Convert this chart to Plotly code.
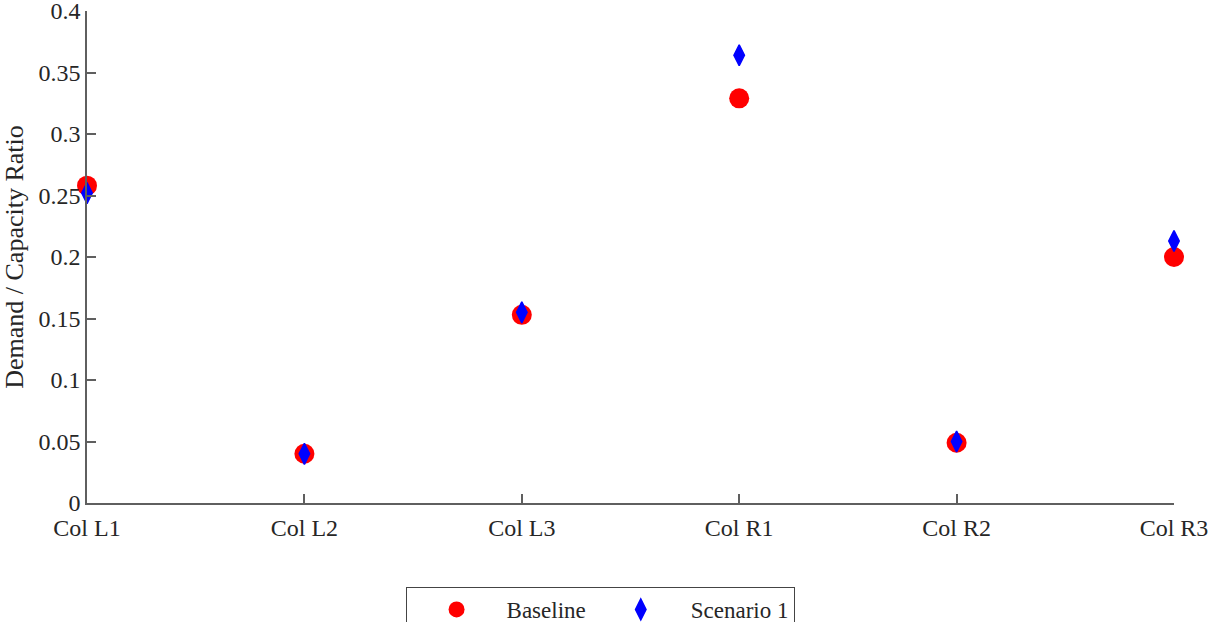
import plotly.graph_objects as go

categories = ["Col L1", "Col L2", "Col L3", "Col R1", "Col R2", "Col R3"]
baseline = [0.258, 0.040, 0.153, 0.329, 0.049, 0.200]
scenario1 = [0.252, 0.040, 0.155, 0.364, 0.050, 0.213]
yticks = [0, 0.05, 0.1, 0.15, 0.2, 0.25, 0.3, 0.35, 0.4]
ytick_text = ["0", "0.05", "0.1", "0.15", "0.2", "0.25", "0.3", "0.35", "0.4"]

font = "Liberation Serif, Times New Roman, serif"
axis_col = "#5f5f5f"
text_col = "#262626"

fig = go.Figure()
fig.add_trace(go.Scatter(x=categories, y=baseline, mode="markers", name="Baseline",
                         marker=dict(symbol="circle", size=20, color="#ff0000", line=dict(width=0)),
                         cliponaxis=False))
fig.add_trace(go.Scatter(x=categories, y=scenario1, mode="markers", name="Scenario 1",
                         marker=dict(symbol="diamond-tall", size=15, color="#0000ff",
                                     line=dict(width=1.5, color="#0000ff")),
                         cliponaxis=False))

fig.update_layout(
    width=1209, height=622,
    margin=dict(l=87, r=35, t=11, b=119, autoexpand=False),
    paper_bgcolor="white", plot_bgcolor="white",
    font=dict(family=font, size=24, color=text_col),
    showlegend=True,
    legend=dict(orientation="h", xanchor="center", x=0.472, yanchor="top", y=-0.1707,
                bordercolor="#444444", borderwidth=1, bgcolor="white",
                font=dict(family=font, size=23, color=text_col),
                itemwidth=90, valign="top"),
)
fig.update_xaxes(type="category", range=[0, 5], showgrid=False, zeroline=False,
                 showline=True, linecolor=axis_col, linewidth=1.5,
                 ticks="inside", ticklen=9, tickcolor=axis_col, tickwidth=1.5,
                 ticklabelstandoff=2, ticklabeloverflow="allow",
                 tickfont=dict(family=font, size=24, color=text_col))
fig.update_yaxes(range=[0, 0.4], tickvals=yticks, ticktext=ytick_text, showgrid=False, zeroline=False,
                 showline=True, linecolor=axis_col, linewidth=1.5,
                 ticks="inside", ticklen=9, tickcolor=axis_col, tickwidth=1.5,
                 ticklabeloverflow="allow",
                 tickfont=dict(family=font, size=24, color=text_col),
                 title=dict(text="Demand / Capacity Ratio", font=dict(family=font, size=26, color=text_col),
                            standoff=8))

fig.write_html("out.html")
